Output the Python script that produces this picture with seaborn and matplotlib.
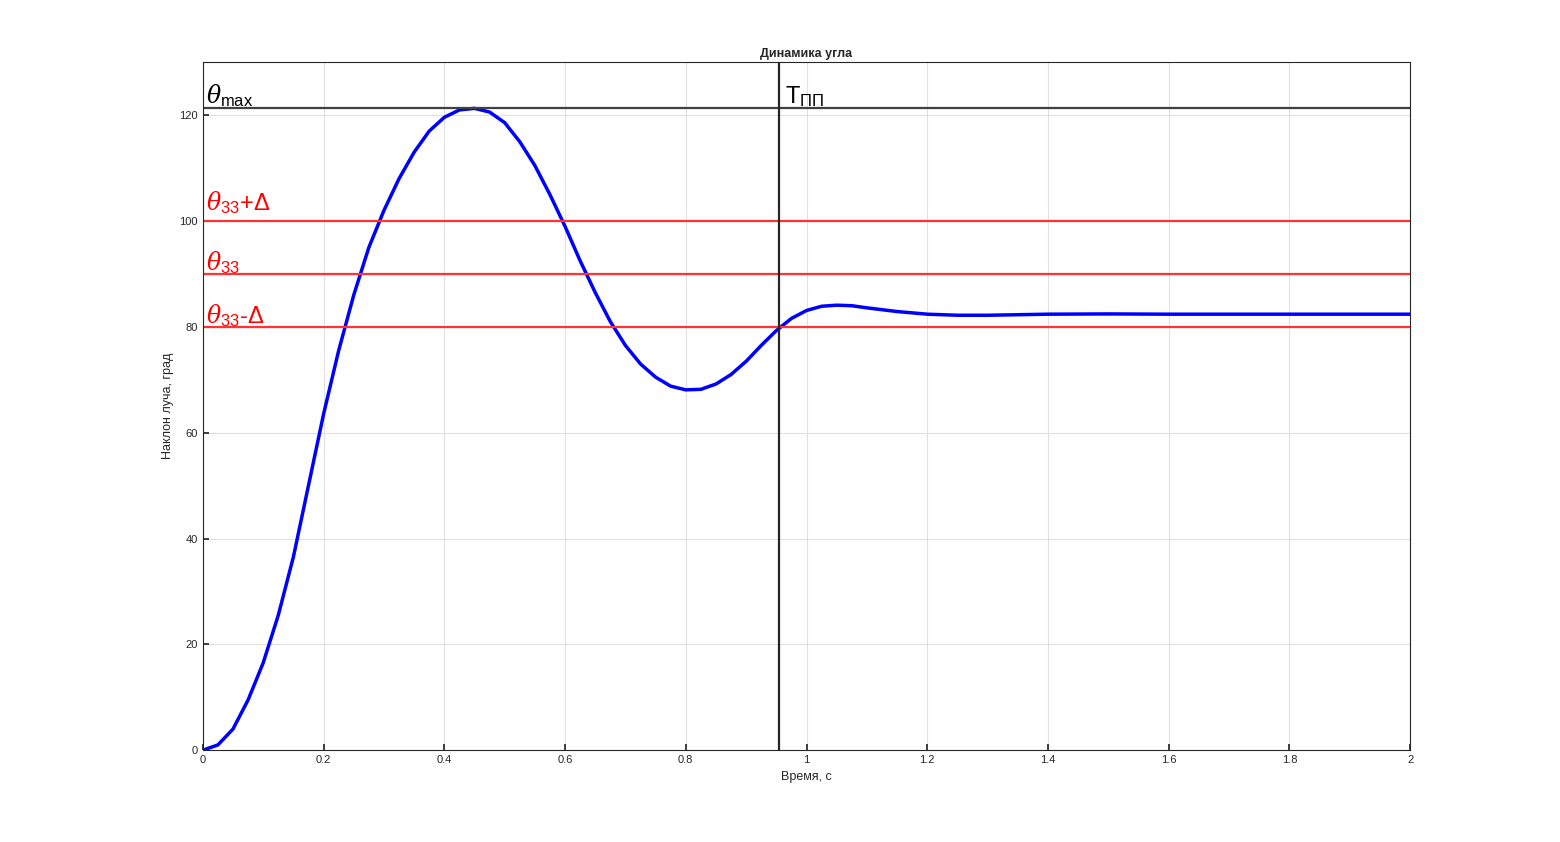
import numpy as np
import matplotlib
matplotlib.use("Agg")
import matplotlib.pyplot as plt
import seaborn as sns
import pandas as pd

t = [0, .025, .05, .075, .1, .125, .15, .175, .2, .225, .25, .275, .3, .325, .35, .375, .4, .425, .45,
     .475, .5, .525, .55, .575, .6, .625, .65, .675, .7, .725, .75, .775, .8, .825, .85, .875, .9,
     .925, .95, .975, 1.0, 1.025, 1.05, 1.075, 1.1, 1.15, 1.2, 1.25, 1.3, 1.4, 1.5, 1.6, 1.8, 2.0]
theta = [0, 1.0, 4.0, 9.5, 16.5, 25.5, 36.5, 50, 63.5, 75.5, 86, 95, 102, 108, 113, 117, 119.6, 121, 121.3,
         120.6, 118.6, 115, 110.5, 105, 99, 92.5, 86.5, 81, 76.5, 73, 70.5, 68.8, 68.1, 68.2, 69.2, 71, 73.5,
         76.5, 79.3, 81.6, 83.1, 83.9, 84.1, 84.0, 83.6, 82.9, 82.4, 82.2, 82.2, 82.4, 82.45, 82.4, 82.4, 82.4]
theta_max = 121.3
theta_zz = 90
delta = 10
t_pp = 0.955

sns.set_theme(style="ticks")
plt.rcParams['font.family'] = ['Liberation Sans', 'DejaVu Sans']
plt.rcParams['mathtext.fontset'] = 'custom'
plt.rcParams['mathtext.rm'] = 'Liberation Sans'
plt.rcParams['mathtext.it'] = 'DejaVu Serif:italic'
fig = plt.figure(figsize=(15.6, 8.42), dpi=100)
ax = fig.add_axes([0.130, 0.109, 0.774, 0.817])
df = pd.DataFrame({"t": t, "theta": theta})
sns.lineplot(data=df, x="t", y="theta", ax=ax, color="#0000ff", linewidth=2.5)
ax.axhline(theta_max, color="#404040", lw=1.6)
for v in (theta_zz + delta, theta_zz, theta_zz - delta):
    ax.axhline(v, color="#ff3333", lw=1.6)
ax.axvline(t_pp, color="#262626", lw=1.6)
ax.set_xlim(0, 2)
ax.set_ylim(0, 130)
ax.set_xticks(np.arange(0, 2.01, 0.2))
ax.set_xticklabels(["0", "0.2", "0.4", "0.6", "0.8", "1", "1.2", "1.4", "1.6", "1.8", "2"])
ax.set_yticks(range(0, 121, 20))
ax.grid(True, color="#e0e0e0", lw=0.8)
ax.tick_params(direction="in", labelsize=8, colors="#262626", length=4)
for s in ax.spines.values():
    s.set_color("#262626"); s.set_linewidth(0.8)
ax.set_xlabel("Время, с", fontsize=9, color="#262626")
ax.set_ylabel("Наклон луча, град", fontsize=9, color="#262626")
ax.set_title("Динамика угла", fontsize=9, fontweight="bold", pad=4)
ax.text(0.005, theta_max + 1.0, r"$\theta_{\mathrm{max}}$", fontsize=17, color="black")
ax.text(t_pp + 0.01, theta_max + 1.0, r"$\mathrm{T}_{\mathrm{ПП}}$", fontsize=17, color="black")
ax.text(0.005, theta_zz + delta + 2.0, r"$\theta_{\mathrm{33}}$+$\Delta$", fontsize=17, color="red")
ax.text(0.005, theta_zz + 0.8, r"$\theta_{\mathrm{33}}$", fontsize=17, color="red")
ax.text(0.005, theta_zz - delta + 0.8, r"$\theta_{\mathrm{33}}$-$\Delta$", fontsize=17, color="red")
fig.savefig("out.png", dpi=100)
